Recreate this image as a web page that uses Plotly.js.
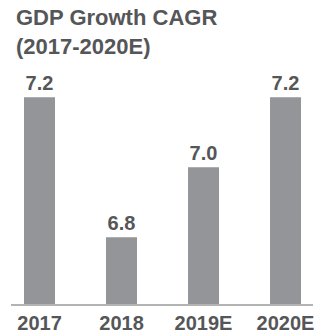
<!DOCTYPE html>
<html>
<head>
<meta charset="utf-8">
<script src="https://cdn.plot.ly/plotly-3.0.1.min.js"></script>
<style>
html,body{margin:0;padding:0;background:#fff;}
#chart{width:319px;height:335px;}
</style>
</head>
<body>
<div id="chart"></div>
<script>
var categories = ["2017", "2018", "2019E", "2020E"];
var growthValues = [7.2, 6.8, 7.0, 7.2];
var valueLabels = ["7.2", "6.8", "7.0", "7.2"];

var FONT = "Liberation Sans, Arial, Helvetica, sans-serif";
var TEXT = "#555658";
var BAR = "#939598";

var trace = {
  type: "bar",
  x: categories,
  y: growthValues,
  text: valueLabels,
  textposition: "outside",
  textfont: {family: FONT, size: 20, color: TEXT, weight: "bold"},
  cliponaxis: false,
  marker: {color: BAR, line: {width: 0}},
  width: 0.378,
  hoverinfo: "none"
};

var layout = {
  width: 319,
  height: 335,
  margin: {l: 11, r: 6, t: 70, b: 31, pad: 0},
  paper_bgcolor: "#ffffff",
  plot_bgcolor: "#ffffff",
  showlegend: false,
  title: {
    text: "GDP Growth CAGR<br>(2017-2020E)",
    font: {family: FONT, size: 22, color: TEXT, weight: "bold"},
    x: 16 / 319,
    xanchor: "left",
    xref: "container",
    y: 0.924,
    yanchor: "top",
    yref: "container"
  },
  xaxis: {
    type: "category",
    range: [-0.3476, 3.335],
    showgrid: false,
    zeroline: false,
    showline: true,
    linecolor: "#b3b3b3",
    linewidth: 2,
    ticks: "",
    tickfont: {family: FONT, size: 20, color: TEXT, weight: "bold"},
    fixedrange: true
  },
  yaxis: {
    range: [6.609, 7.278],
    visible: false,
    showgrid: false,
    zeroline: false,
    fixedrange: true
  }
};

Plotly.newPlot("chart", [trace], layout, {displayModeBar: false, staticPlot: true});
</script>
</body>
</html>
